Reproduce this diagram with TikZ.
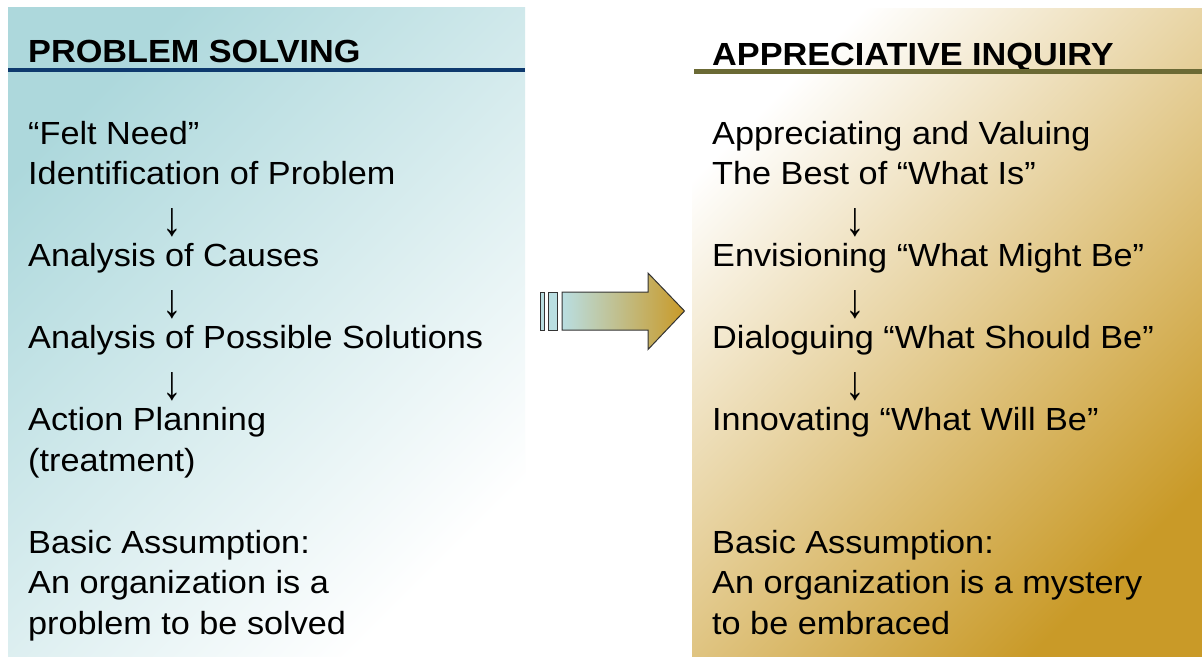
\documentclass[tikz,border=0pt]{standalone}
\usepackage{fontspec}
\setmainfont{Liberation Sans}[FakeStretch=1.07]
\usetikzlibrary{positioning}
\definecolor{psteal}{HTML}{ADD8DC}
\definecolor{aigold}{HTML}{C99A28}
\definecolor{aitan}{HTML}{E6CBA6}
\definecolor{psblue}{HTML}{0E3A6E}
\definecolor{aiolive}{HTML}{6B6A35}
\tikzset{
    txt/.style={anchor=base west, inner sep=0pt, font=\fontsize{32}{38}\selectfont},
    hdr/.style={anchor=base west, inner sep=0pt, font=\fontsize{32}{38}\selectfont\bfseries},
    dn/.style={anchor=base, inner sep=0pt, font=\fontsize{32}{38}\selectfont},
    rule/.style={line width=4.5pt}
}
\newcommand{\dnarrow}{\scalebox{1.15}[1.5]{↓}}
\begin{document}
\begin{tikzpicture}[x=1pt,y=-1pt]
    \def \ls {40.9}
    \def \yo {144}
    \def \ya {10}
    \useasboundingbox (0,0) rectangle (1202,656);
    \fill[white] (0,0) rectangle (1202,656);
    % panels
    \shade[top color=psteal, bottom color=white, shading angle=45] (8,7) rectangle (525,656);
    \shade[top color=white, middle color=aitan, bottom color=aigold, shading angle=45] (692,8) rectangle (1202,656);
    % headings
    \node[hdr] (psh) at (28,62) {PROBLEM SOLVING};
    \node[hdr] (aih) at (712,65) {APPRECIATIVE INQUIRY};
    \draw[rule, psblue] (8,70) -- (525,70);
    \draw[rule, aiolive] (694,71.5) -- (1202,71.5);
    % problem solving column
    \node[txt] (p1) at (28,\yo+0*\ls) {“Felt Need”};
    \node[txt] (p2) at (28,\yo+1*\ls) {Identification of Problem};
    \node[dn]  (p3) at (172,\yo+2*\ls+\ya) {\dnarrow};
    \node[txt] (p4) at (28,\yo+3*\ls) {Analysis of Causes};
    \node[dn]  (p5) at (172,\yo+4*\ls+\ya) {\dnarrow};
    \node[txt] (p6) at (28,\yo+5*\ls) {Analysis of Possible Solutions};
    \node[dn]  (p7) at (172,\yo+6*\ls+\ya) {\dnarrow};
    \node[txt] (p8) at (28,\yo+7*\ls) {Action Planning};
    \node[txt] (p9) at (28,\yo+8*\ls) {(treatment)};
    \node[txt] (p10) at (28,\yo+10*\ls) {Basic Assumption:};
    \node[txt] (p11) at (28,\yo+11*\ls) {An organization is a};
    \node[txt] (p12) at (28,\yo+12*\ls) {problem to be solved};
    % appreciative inquiry column
    \node[txt] (a1) at (712,\yo+0*\ls) {Appreciating and Valuing};
    \node[txt] (a2) at (712,\yo+1*\ls) {The Best of “What Is”};
    \node[dn]  (a3) at (855,\yo+2*\ls+\ya) {\dnarrow};
    \node[txt] (a4) at (712,\yo+3*\ls) {Envisioning “What Might Be”};
    \node[dn]  (a5) at (855,\yo+4*\ls+\ya) {\dnarrow};
    \node[txt] (a6) at (712,\yo+5*\ls) {Dialoguing “What Should Be”};
    \node[dn]  (a7) at (855,\yo+6*\ls+\ya) {\dnarrow};
    \node[txt] (a8) at (712,\yo+7*\ls) {Innovating “What Will Be”};
    \node[txt] (a10) at (712,\yo+10*\ls) {Basic Assumption:};
    \node[txt] (a11) at (712,\yo+11*\ls) {An organization is a mystery};
    \node[txt] (a12) at (712,\yo+12*\ls) {to be embraced};
    % shift arrow
    \begin{scope}[draw=black!80, line width=1pt]
    \filldraw[fill=psteal!85] (540,292) rectangle (544.5,330);
    \filldraw[fill=psteal!85] (548.5,292) rectangle (557.5,330);
    \shade[left color=psteal!85, right color=aigold, draw=black!80] (562,292) -- (648,292) -- (648,273) -- (684.5,311) -- (648,349.5) -- (648,330) -- (562,330) -- cycle;
    \end{scope}
\end{tikzpicture}
\end{document}
